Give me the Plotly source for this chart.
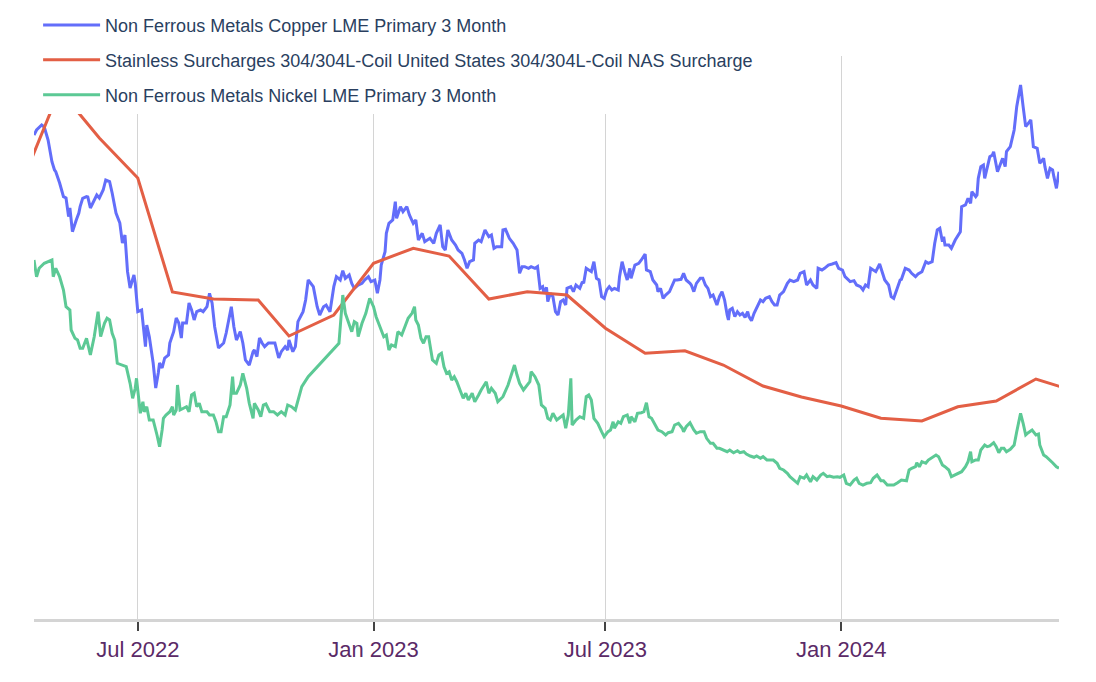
import pandas as pd
import plotly.graph_objects as go

BASE = pd.Timestamp("2022-07-01")

# Copper LME 3M (USD/t), day offsets from 2022-07-01
copper_day = [
    -81, -79, -75, -73, -70, -67, -65, -64, -61, -58, -56, -54, -53, -52, -51, -48, -46, -45, -43, -40,
    -39, -37, -35, -32, -30, -27, -25, -22, -20, -17, -14, -12, -10, -9, -8, -6, -5, -3, -2, 0,
    3, 4, 6, 7, 9, 12, 14, 16, 17, 19, 21, 24, 25, 28, 30, 32, 34, 35, 38, 40,
    42, 44, 46, 49, 51, 54, 56, 58, 60, 63, 67, 69, 71, 73, 75, 77, 80, 82, 84, 87,
    90, 91, 93, 95, 97, 99, 102, 104, 107, 110, 112, 115, 117, 118,
    121, 123, 125,
    129, 131, 133, 137, 140, 142, 145, 147, 150, 153, 155, 158, 160, 162, 165, 167, 169, 172, 175, 177,
    180, 182, 185, 187, 189, 190, 193, 194, 196, 199, 201, 202, 205, 207, 210, 212, 215, 217, 219, 222,
    224, 228, 231, 233, 236, 238, 240, 242, 245, 248, 250, 253, 255, 257, 259, 262, 263, 266, 268, 271,
    274, 276, 278, 280, 284, 285, 287, 290, 293, 296, 298, 300, 302, 305, 307, 310, 312, 314, 316, 317, 319, 320,
    322, 324, 326, 328, 330, 332, 334, 335, 338, 340, 342, 345, 347, 348, 350, 352, 354, 356, 358, 360, 362, 364,
    366, 368, 370, 372, 375, 376, 378, 380, 382, 384, 385, 388, 391, 393, 396, 397, 400, 402, 405, 406,
    408, 410, 412, 415, 417, 419, 421, 424, 426, 428, 431, 432, 434, 436, 439, 441, 443, 445, 447, 449,
    452, 454, 456, 458, 460, 461, 462, 464, 466, 468, 470, 472, 474, 476, 477, 479, 481, 483, 486, 488,
    490, 493, 495, 497, 499, 501, 504, 507, 509, 512, 515, 517, 520, 522, 525, 527, 530, 531, 534, 536,
    539, 542, 545, 547, 550, 552, 556, 559, 561, 564, 566, 568, 570, 572, 574, 576, 579, 581, 583, 586,
    588, 590, 592, 595, 596, 599, 602, 604, 607, 609, 612, 615, 617, 620, 622, 624, 626, 628, 629, 630,
    633, 635, 638, 642, 643, 646, 648, 650, 651, 654, 655, 656, 658, 660, 661, 663, 665, 667, 668, 671,
    673, 675, 677, 678, 681, 684, 686, 689, 691, 693, 695, 697, 699, 702, 704, 707, 708, 710, 712, 714, 715, 717, 719,
]
copper_usd_t = [
    10975, 11050, 11125, 11095, 10900, 10575, 10450, 10425, 10255, 10050, 10030, 9750, 9880, 9700, 9525, 9700, 9805, 9900, 10025, 10050,
    10045, 9880, 9955, 10075, 10030, 10150, 10300, 10275, 10105, 9805, 9655, 9355, 9475, 9250, 8925, 8680, 8755, 8875, 8755, 8325,
    8350, 8155, 7800, 8125, 7950, 7555, 7180, 7405, 7555, 7480, 7630, 7675, 7855, 8025, 8230, 8155, 7930, 8155, 8155, 8455,
    8350, 8200, 8325, 8350, 8325, 8400, 8600, 8455, 8100, 7780, 7855, 8005, 8230, 8400, 8100, 7900, 8025, 7855, 7600, 7525,
    7725, 7750, 7650, 7930, 7855, 7800, 7855, 7855, 7855, 7630, 7725, 7800, 7750, 7900,
    7725, 7800, 8175,
    8325, 8500, 8800, 8700, 8400, 8275, 8400, 8425, 8325, 8700, 8850, 8800, 8940, 8825, 8875, 8750, 8675, 8725, 8750, 8800,
    8850, 8775, 8800, 8600, 8800, 9025, 9225, 9500, 9650, 9700, 9975, 9725, 9900, 9825, 9900, 9775, 9650, 9700, 9400, 9500,
    9375, 9425, 9350, 9500, 9625, 9300, 9250, 9550, 9400, 9325, 9250, 9200, 9100, 8975, 9075, 9100, 9350, 9400, 9375, 9550,
    9450, 9475, 9275, 9300, 9300, 9550, 9560, 9425, 9350, 9250, 8900, 9000, 9000, 8975, 9000, 8975, 9000, 8675, 8700, 8600, 8690, 8475,
    8600, 8550, 8325, 8275, 8475, 8500, 8425, 8675, 8700, 8625, 8725, 8675, 8775, 8750, 8975, 8950, 8925, 9075, 8825, 8800, 8550, 8525,
    8650, 8700, 8650, 8675, 8650, 8850, 9075, 8925, 8800, 8975, 8825, 9025, 9050, 9100, 9190, 8950, 8925, 8800, 8725, 8625,
    8675, 8525, 8575, 8625, 8725, 8800, 8800, 8810, 8900, 8800, 8750, 8725, 8625, 8750, 8825, 8825, 8725, 8675, 8550, 8575,
    8425, 8550, 8625, 8500, 8275, 8200, 8350, 8375, 8250, 8325, 8275, 8300, 8240, 8325, 8250, 8190, 8300, 8375, 8500, 8475,
    8525, 8550, 8475, 8425, 8425, 8575, 8625, 8750, 8800, 8775, 8800, 8900, 8925, 8725, 8800, 8725, 8675, 8975, 8950, 8975,
    9025, 9040, 9060, 8975, 8950, 8850, 8775, 8790, 8725, 8700, 8650, 8725, 8700, 8975, 8950, 8925, 9040, 8900, 8800, 8725,
    8550, 8525, 8650, 8800, 8810, 8975, 8950, 8900, 8850, 8890, 8925, 9075, 9050, 9075, 9350, 9550, 9575, 9375, 9450, 9325,
    9325, 9275, 9400, 9525, 9900, 9925, 10025, 9950, 10125, 10050, 10075, 10325, 10500, 10525, 10325, 10500, 10650, 10675, 10725, 10425,
    10525, 10625, 10500, 10725, 10800, 11050, 11400, 11725, 11400, 11100, 11150, 11200, 10800, 10775, 10550, 10625, 10500, 10325, 10475, 10450, 10350, 10175, 10425,
]

# Nickel LME 3M (USD/t), day offsets from 2022-07-01
nickel_day = [
    -81, -79, -77, -73, -67, -66, -64, -61, -58, -56, -53, -52, -49, -47, -45, -43, -40, -37, -34, -31,
    -29, -26, -24, -22, -20, -18, -16, -13, -9, -6, -4, -2, -1, 2, 4, 5, 7, 9, 12, 15,
    17, 19, 20, 22, 25, 27, 28, 30, 31, 33, 36, 38, 40, 42, 44, 46, 48, 50, 54, 56,
    59, 61, 63, 65, 67, 69, 72, 74, 75, 77, 80, 82, 85, 87, 90, 91, 94, 96, 98, 100,
    103, 106, 109, 112, 115, 117, 120,
    123, 128, 133, 157,
    160, 162, 167, 169, 171, 172, 175, 178, 181, 184, 186, 189, 192, 194, 196, 198, 201, 203, 206, 209,
    211, 214, 216, 217, 219, 221, 223, 225, 227, 230, 233, 235, 237, 239, 241, 243, 245, 247, 249, 252,
    254, 256, 258, 261, 263, 266, 268, 272, 274, 276, 279, 281, 285, 289, 292, 294, 296, 298, 301, 304,
    306, 307, 310, 313, 315, 318, 320, 322, 324, 327, 330, 332, 334, 336, 338, 339, 342, 345, 348, 350,
    352, 354, 356, 359, 362, 364, 367, 369, 371, 372, 375, 377, 379, 382, 384, 385, 388, 390, 393, 395,
    397, 399, 401, 404, 406, 409, 412, 414, 417, 419, 422, 425, 426, 428, 431, 434, 436, 439, 442, 444,
    447, 449, 452, 454, 457, 460, 462, 465, 468, 470, 473, 475, 478, 481, 483, 486, 488, 491, 494, 496,
    499, 501, 504, 507, 509, 512, 515, 517,
    520, 522, 525, 527, 530, 533, 535, 538, 540, 543, 546, 548, 551, 553, 556, 559, 561, 563, 566, 569,
    572, 574, 577, 580, 582, 585, 587, 590, 593, 596, 600, 602, 604, 607, 608, 610, 612, 615, 617, 620,
    623, 625, 628, 630, 633, 635, 638, 641, 643, 646, 648, 650, 651, 654, 656, 658, 661, 663, 665, 668,
    670, 672, 674, 676, 678, 681, 684, 686, 689, 691, 693, 695, 698, 701, 703, 704, 707, 709, 712, 714, 717, 719,
]
nickel_usd_t = [
    31800, 30630, 31220, 31570, 31800, 30630, 31220, 30630, 29700, 28530, 28300, 26900, 26320, 26200, 25620, 25620, 26320, 25150, 26430, 28180,
    26430, 27370, 27720, 27600, 26670, 26200, 24570, 24450, 24330, 23170, 22120, 22820, 23520, 21070, 21880, 21180, 21530, 20600, 20600, 19550,
    18730, 19900, 20720, 20950, 21180, 21530, 20950, 21300, 23050, 21300, 21420, 21530, 21180, 22350, 22470, 21530, 21770, 21180, 21180, 20950,
    20950, 20480, 19780, 19780, 20830, 20830, 21650, 23630, 22470, 22470, 23050, 23870, 22820, 21770, 20720, 21770, 21300, 20830, 21650, 21720,
    21180, 21180, 20950, 21180, 20950, 21650, 21530,
    21300, 22930, 23630, 25970,
    29350, 28070, 26780, 27480, 27370, 26430, 27370, 28070, 29120, 28530, 27830, 27130, 26430, 26550, 25500, 25850, 25730, 26780, 26550, 27250,
    27720, 28070, 28530, 27600, 27250, 26320, 25970, 26430, 26430, 24800, 24570, 25150, 25270, 24330, 23870, 23980, 23400, 23630, 23280, 22580,
    22120, 22470, 22000, 22470, 21880, 22350, 22700, 23280, 22470, 22820, 22470, 21880, 22230, 23050, 23870, 24450, 23750, 23170, 22700, 23050,
    23280, 23980, 23630, 23050, 21650, 21420, 20720, 20600, 21070, 20600, 20830, 20950, 20020, 20950, 23520, 20250, 20600, 20830, 20720, 22230,
    22350, 22000, 20720, 20370, 19780, 19430, 19780, 19900, 20480, 20020, 20480, 20370, 20830, 20950, 20370, 20830, 20480, 21070, 21110, 21180,
    21810, 20830, 20720, 20250, 19900, 19780, 19550, 19710, 19780, 20250, 20370, 20020, 19780, 20130, 20410, 19900, 19670, 19780, 19780, 19320,
    18970, 18970, 18620, 18620, 18500, 18380, 18500, 18310, 18450, 18310, 18380, 18220, 18080, 17990, 18080, 17920, 18030, 17800, 17800, 17800,
    17570, 17220, 17100, 16870, 16630, 16400, 16170, 16630,
    16520, 16750, 16280, 16630, 16400, 16750, 16870, 16630, 16680, 16590, 16630, 16590, 16750, 16170, 16050, 16400, 16520, 16170, 16050, 16170,
    16210, 16520, 16750, 16350, 16350, 16050, 16050, 16050, 16210, 16400, 16350, 17100, 17220, 17330, 17610, 17330, 17680, 17570, 17800, 17990,
    18150, 18030, 17450, 17330, 17100, 16630, 16750, 16870, 16980, 17330, 17680, 18380, 17680, 17800, 17800, 18500, 18850, 18730, 18780, 19010,
    18730, 18310, 18620, 18620, 18380, 18550, 18850, 19780, 21070, 20370, 19550, 19710, 19900, 19550, 19620, 18850, 18150, 18030, 17800, 17610, 17330, 17220,
]

# NAS 304/304L coil surcharge (USD/lb), monthly
surcharge_date = [
    "2022-04-01", "2022-05-01", "2022-06-01", "2022-07-01", "2022-07-28", "2022-08-29", "2022-10-03",
    "2022-10-27", "2022-12-01", "2023-01-01", "2023-02-01", "2023-03-01", "2023-04-01", "2023-05-01",
    "2023-06-01", "2023-07-01", "2023-08-01", "2023-09-01", "2023-10-01", "2023-11-01", "2023-12-01",
    "2024-01-01", "2024-02-01", "2024-03-04", "2024-04-01", "2024-05-01", "2024-06-01", "2024-07-01",
]
surcharge_usd_lb = [
    1.864, 2.240, 2.048, 1.888, 1.432, 1.404, 1.400,
    1.256, 1.340, 1.547, 1.607, 1.576, 1.404, 1.433,
    1.420, 1.287, 1.187, 1.197, 1.140, 1.056, 1.012,
    0.976, 0.927, 0.916, 0.973, 0.996, 1.084, 1.036,
]

assert len(copper_day) == len(copper_usd_t)
assert len(nickel_day) == len(nickel_usd_t)

copper_x = BASE + pd.to_timedelta(copper_day, unit="D")
nickel_x = BASE + pd.to_timedelta(nickel_day, unit="D")

names = [
    "Non Ferrous Metals Copper LME Primary 3 Month",
    "Stainless Surcharges 304/304L-Coil United States 304/304L-Coil NAS Surcharge",
    "Non Ferrous Metals Nickel LME Primary 3 Month",
]

fig = go.Figure()
fig.add_trace(go.Scatter(x=copper_x, y=copper_usd_t, mode="lines", name=names[0],
                         line=dict(color="#636efa", width=3), yaxis="y", legendgroup="a"))
fig.add_trace(go.Scatter(x=surcharge_date, y=surcharge_usd_lb, mode="lines", name=names[1],
                         line=dict(color="#e35f45", width=3), yaxis="y2", legendgroup="b"))
fig.add_trace(go.Scatter(x=nickel_x, y=nickel_usd_t, mode="lines", name=names[2],
                         line=dict(color="#5cc995", width=3), yaxis="y3", legendgroup="c"))

fig.update_layout(
    width=1096, height=682,
    margin=dict(l=26, r=45, t=48, b=71, autoexpand=False),
    paper_bgcolor="white", plot_bgcolor="white",
    font=dict(family="Liberation Sans, Arial, sans-serif"),
    showlegend=True,
    legend=dict(x=0.004, y=1.0875, xanchor="left", yanchor="top", bgcolor="white",
                font=dict(size=18, color="#2a3f5f"), tracegroupgap=8.5, itemwidth=57),
    xaxis=dict(type="date", range=["2022-04-11", "2024-06-19"],
               tick0="2022-01-01", dtick="M6", tickformat="%b %Y",
               showgrid=True, gridcolor="#d4d4d4", gridwidth=1,
               showline=True, linecolor="#d4d4d4", linewidth=3,
               ticks="outside", ticklen=9, tickwidth=2, tickcolor="#444",
               tickfont=dict(size=22, color="#5b2a67"), zeroline=False),
    yaxis=dict(range=[3715, 12160], visible=False, showgrid=False, zeroline=False),
    yaxis2=dict(range=[0.124, 2.376], overlaying="y", visible=False, showgrid=False, zeroline=False),
    yaxis3=dict(range=[6670, 46080], overlaying="y", visible=False, showgrid=False, zeroline=False),
)

fig.write_html("out.html")
